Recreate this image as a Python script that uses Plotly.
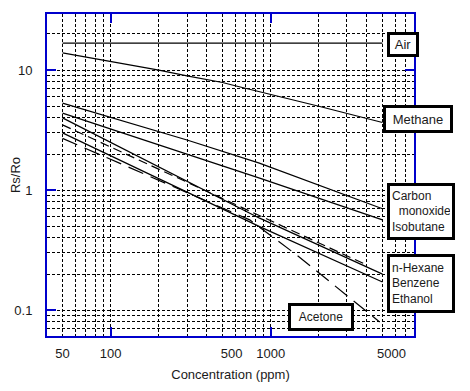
import plotly.graph_objects as go

# ---------------- data ----------------
AIR_X = [50, 5000]
AIR_Y = [16.8, 16.8]

METHANE_X = [50, 100, 200, 300, 500, 600, 1000, 2000, 5000]
METHANE_Y = [13.9, 11.8, 10.0, 8.96, 7.88, 7.4, 6.3, 5.0, 3.66]

CO_X = [50, 300, 850, 5000]
CO_Y = [5.3, 2.62, 1.68, 0.70]

ISOBUTANE_X = [50, 200, 853, 5000]
ISOBUTANE_Y = [4.38, 2.38, 1.26, 0.566]

HEXANE_X = [50, 853, 5000]
HEXANE_Y = [4.0, 0.585, 0.2]

BENZENE_X = [50, 850, 4000]
BENZENE_Y = [3.5, 0.62, 0.238]

ETHANOL_X = [50, 853, 5000]
ETHANOL_Y = [3.0, 0.497, 0.172]

ACETONE_X = [50, 200, 740, 1454, 4800]
ACETONE_Y = [2.7, 1.2, 0.566, 0.289, 0.08]

X_LABEL_VALS = [50, 100, 500, 1000, 5000]
X_LABEL_TEXT = ["50", "100", "\u00a0" * 5 + "500", "1000", "\u00a0" * 5 + "5000"]
X_GRID = [60, 70, 80, 90, 200, 300, 400, 600, 700, 800, 900,
          2000, 3000, 4000, 6000, 7000]
X_DECADES = [100, 1000]

Y_LABEL_VALS = [0.1, 1, 10]
Y_LABEL_TEXT = ["0.1", "1", "10"]
Y_GRID = [0.07, 0.08, 0.09, 0.2, 0.3, 0.4, 0.5, 0.6, 0.7, 0.8, 0.9,
          2, 3, 4, 5, 6, 7, 8, 9, 20]

# ---------------- figure ----------------
BLUE = "#0000cc"
TXT = "#1a1a1a"
FONT = "Arial, Liberation Sans, sans-serif"
XR = [1.602, 3.896]
YR = [-1.214, 1.467]

fig = go.Figure()

series = [
    (AIR_X, AIR_Y, "solid"),
    (METHANE_X, METHANE_Y, "solid"),
    (CO_X, CO_Y, "solid"),
    (ISOBUTANE_X, ISOBUTANE_Y, "solid"),
    (HEXANE_X, HEXANE_Y, "solid"),
    (BENZENE_X, BENZENE_Y, "9px,5px"),
    (ETHANOL_X, ETHANOL_Y, "solid"),
    (ACETONE_X, ACETONE_Y, "16px,8px"),
]
for xs, ys, dash in series:
    fig.add_trace(go.Scatter(x=xs, y=ys, mode="lines",
                             line=dict(color="black", width=1.2, dash=dash),
                             hoverinfo="skip"))

# dummy trace for the overlay axes carrying the blue decade ticks
fig.add_trace(go.Scatter(x=[100], y=[1], xaxis="x2", yaxis="y2", mode="markers",
                         marker=dict(opacity=0), hoverinfo="skip"))

grid = dict(showgrid=True, gridcolor="black", gridwidth=1, griddash="3px,2px")

# the page body keeps the browser's 8px margin, so the figure is 8px smaller
fig.update_layout(
    template="none",
    width=462, height=383,
    margin=dict(l=39, r=56, t=6, b=55, pad=0),
    plot_bgcolor="white", paper_bgcolor="white",
    showlegend=False,
    font=dict(family=FONT, size=13, color=TXT),
    xaxis=dict(type="log", range=XR, tickvals=X_LABEL_VALS, ticktext=X_LABEL_TEXT,
               ticks="", zeroline=False, showline=True, linecolor=BLUE, linewidth=2,
               mirror=True, ticklabelstandoff=4, automargin=False,
               minor=dict(tickvals=X_GRID, ticks="", **grid),
               title=dict(text="Concentration (ppm)", standoff=10,
                          font=dict(size=13, color=TXT)),
               **grid),
    yaxis=dict(type="log", range=YR, tickvals=Y_LABEL_VALS, ticktext=Y_LABEL_TEXT,
               ticks="", zeroline=False, showline=True, linecolor=BLUE, linewidth=2,
               mirror=True, ticklabelstandoff=10, automargin=False,
               minor=dict(tickvals=Y_GRID, ticks="", **grid),
               title=dict(text="Rs/Ro", standoff=10, font=dict(size=13, color=TXT)),
               **grid),
    xaxis2=dict(type="log", range=XR, overlaying="x", anchor="y2", automargin=False,
                tickvals=X_DECADES, ticks="inside", ticklen=9, tickwidth=2,
                tickcolor=BLUE, showticklabels=False, showgrid=False, zeroline=False,
                showline=True, linecolor=BLUE, linewidth=2, mirror="ticks"),
    yaxis2=dict(type="log", range=YR, overlaying="y", anchor="x2", automargin=False,
                tickvals=Y_LABEL_VALS, ticks="inside", ticklen=9, tickwidth=2,
                tickcolor=BLUE, showticklabels=False, showgrid=False, zeroline=False,
                showline=True, linecolor=BLUE, linewidth=2, mirror="ticks"),
)

boxes = [
    ("Air", 0.9688, 0.9045, 26, 19, "center", 13),
    ("Methane", 1.0109, 0.674, 64, 22, "center", 13),
    ("Carbon<br>\u00a0\u00a0monoxide<br>Isobutane", 1.0179, 0.3866, 58, 47, "left", 12),
    ("n-Hexane<br>Benzene<br>Ethanol", 1.0179, 0.1637, 58, 49, "left", 12),
    ("Acetone", 0.7462, 0.0586, 60, 22, "center", 12),
]
for text, x, y, w, h, al, fs in boxes:
    fig.add_annotation(text=text, xref="paper", yref="paper", x=x, y=y,
                       xanchor="center", yanchor="middle", showarrow=False,
                       width=w, height=h, align=al, valign="middle",
                       bgcolor="white", bordercolor="black", borderwidth=3,
                       borderpad=2 if al == "left" else 0,
                       font=dict(family=FONT, size=fs, color=TXT))

fig.write_html("out.html")
